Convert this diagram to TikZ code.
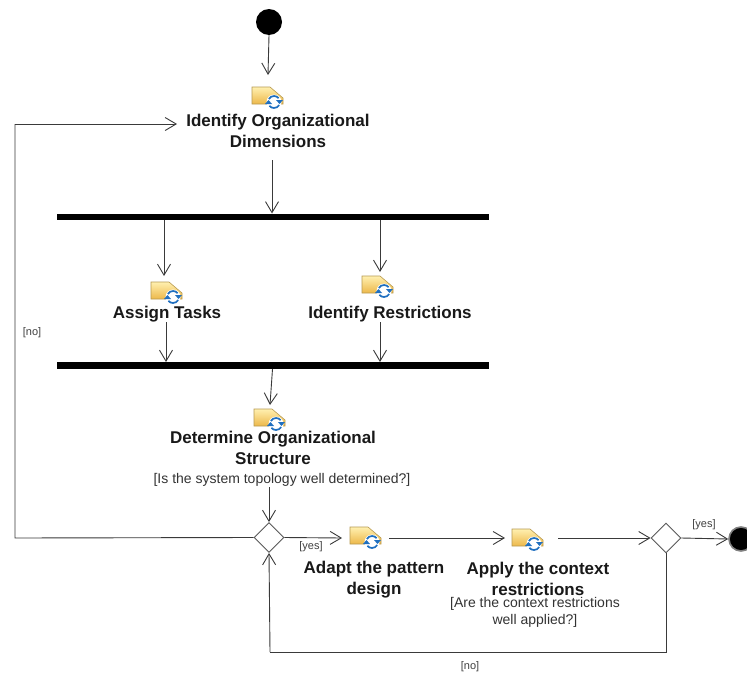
\documentclass[tikz,border=0pt]{standalone}
\usepackage{fontspec}
\setmainfont{Liberation Sans}
\usetikzlibrary{arrows.meta,shapes.geometric}
\definecolor{linec}{HTML}{3A3A3A}
\definecolor{folderA}{HTML}{FFF0B0}
\definecolor{folderB}{HTML}{EDB84A}
\definecolor{folderE}{HTML}{B89A50}
\definecolor{cyc}{HTML}{1F6FC0}
\tikzset{
  flow/.style={draw=linec,line width=0.9pt,-{Straight Barb[length=11pt,width=13pt,line width=0.9pt]}},
  plainline/.style={draw=linec,line width=0.9pt},
  bar/.style={fill=black,draw=none,rectangle,minimum width=432pt,minimum height=6.5pt,inner sep=0pt},
  act/.style={font=\bfseries\fontsize{17}{21}\selectfont,align=center,inner sep=0pt,text=black!90},
  guard/.style={font=\fontsize{14}{17}\selectfont,align=center,inner sep=0pt,text=black!80},
  small/.style={font=\fontsize{11}{12}\selectfont,inner sep=0pt,text=black!75},
  dec/.style={diamond,draw=black!65,fill=white,line width=0.9pt,minimum width=30pt,minimum height=30pt,inner sep=0pt,aspect=1},
  iconbox/.style={rectangle,draw=none,minimum width=32pt,minimum height=26pt,inner sep=0pt},
  foldericon/.pic={
    \draw[draw=folderE,line width=0.6pt,top color=folderA,bottom color=folderB]
      (-15,-10) -- (3,-10) -- (16,1) -- (16,7) -- (-15,7) -- cycle;
    \fill[white] (7,5) circle (7.5);
    \draw[cyc,line width=1.7pt] (1.8,2) arc (210:320:6);
    \draw[cyc,line width=1.7pt] (12.2,8) arc (30:140:6);
    \fill[cyc] (9,3) -- (16,3) -- (12.5,7) -- cycle;
    \fill[cyc] (5,7) -- (-2,7) -- (1.5,3) -- cycle;
  }
}
\newcommand{\activityicon}[3]{%
  \node[iconbox] (#1) at (#2,#3) {};
  \pic at (#1) {foldericon};
}
\begin{document}
\begin{tikzpicture}[x=1pt,y=-1pt]
\clip (0,0) rectangle (747,680);
\fill[white] (0,0) rectangle (747,680);

\node[circle,fill=black,minimum size=26pt,inner sep=0pt] (start) at (269,22) {};

\activityicon{i1}{267}{97}
\node[act] (l1) at (278,131) {Identify Organizational\\Dimensions};
\node[bar] (bar1) at (273,217) {};
\activityicon{i2}{166}{292}
\node[act] (l2) at (167,314) {Assign Tasks};
\activityicon{i3}{377}{286}
\node[act] (l3) at (390,314) {Identify Restrictions};
\node[bar] (bar2) at (273,365.5) {};
\activityicon{i4}{269}{419}
\node[act] (l4) at (273,448) {Determine Organizational\\Structure};
\node[guard] (g4) at (282,479.5) {[Is the system topology well determined?]};
\node[dec] (d1) at (269,537.5) {};
\activityicon{i5}{365}{537}
\node[act] (l5) at (374,579.5) {Adapt the pattern\\design};
\activityicon{i6}{527}{539}
\node[act] (l6) at (538,578.5) {Apply the context\\restrictions};
\node[guard] (g6) at (535,612.5) {[Are the context restrictions\\well applied?]};
\node[dec] (d2) at (666,538) {};
\node[circle,fill=black,draw=black!50,line width=1.6pt,minimum size=24pt,inner sep=0pt] (end) at (741,539) {};

\node[small] (tno1) at (32,333) {[no]};
\node[small] (tyes1) at (311,547) {[yes]};
\node[small] (tyes2) at (704,525) {[yes]};
\node[small] (tno2) at (470,667) {[no]};

\coordinate (c1a) at (15,538);
\coordinate (c1b) at (15,124);
\coordinate (c2a) at (666,652);
\coordinate (c2b) at (270,652);
\coordinate (b1a) at (164,220);
\coordinate (b1b) at (380,220);
\coordinate (b2a) at (166,362);
\coordinate (b2b) at (380,362);

\draw[flow] (start.south) -- (268,75);
\draw[flow] (272,160) -- (272,213.5);
\draw[flow] (b1a) -- (164,276);
\draw[flow] (b1b) -- (380,272);
\draw[flow] (166,322) -- (b2a);
\draw[flow] (380,322) -- (b2b);
\draw[flow] (272.5,369) -- (270,405);
\draw[flow] (269,487) -- (d1.north);
\draw[flow] (d1.east) -- (342,538);
\draw[flow] (389,538) -- (505,538);
\draw[flow] (558,538) -- (d2.west);
\draw[flow] (d2.east) -- (end.west);
\draw[plainline] (d1.west) -- (c1a) -- (c1b);
\draw[flow] (c1b) -- (177,124);
\draw[plainline] (d2.south) -- (c2a) -- (c2b);
\draw[flow] (c2b) -- (d1.south);
\end{tikzpicture}
\end{document}
